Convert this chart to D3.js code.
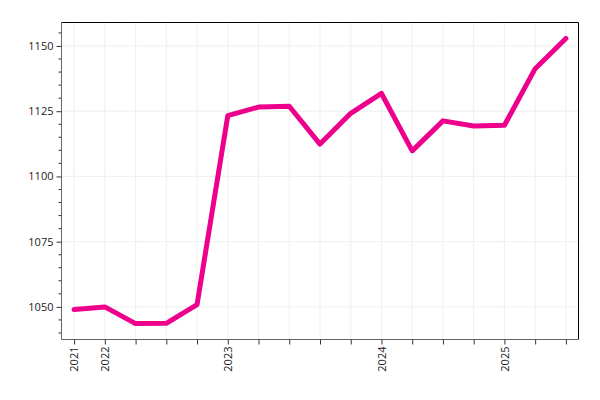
<!DOCTYPE html>
<html>
<head>
<meta charset="utf-8">
<script src="https://cdn.jsdelivr.net/npm/d3@7"></script>
<style>
  body { margin: 0; background: #fff; }
  text { font-family: "Open Sans", sans-serif; font-size: 11px; fill: #222; }
</style>
</head>
<body>
<svg id="chart" width="600" height="400"></svg>
<script>
// one value per period, tick label only where the year changes
var periodLabels = ["2021","2022","","","","2023","","","","","2024","","","","2025","",""];
var values = [1049, 1050, 1043.6, 1043.7, 1050.9, 1123.3, 1126.6, 1126.9, 1112.4, 1124.2,
              1131.8, 1109.8, 1121.3, 1119.3, 1119.6, 1141.3, 1152.9];
var yTicks = [1050, 1075, 1100, 1125, 1150];

var margin = {top: 22.5, right: 21.5, bottom: 60.5, left: 61.5},
    width = 600 - margin.left - margin.right,
    height = 400 - margin.top - margin.bottom;

var svg = d3.select("#chart");
var g = svg.append("g")
  .attr("transform", "translate(" + margin.left + "," + margin.top + ")");

var x = d3.scaleLinear()
    .domain([-0.41, values.length - 1 + 0.41])
    .range([0, width]);
var y = d3.scaleLinear()
    .domain([1037.5, 1159])
    .range([height, 0]);

var idx = d3.range(values.length);

// grid
g.append("g").selectAll("line.vg")
  .data(idx).enter().append("line")
  .attr("x1", function(d){ return x(d); })
  .attr("x2", function(d){ return x(d); })
  .attr("y1", 0).attr("y2", height)
  .attr("stroke", "#efefef").attr("stroke-width", 1);
g.append("g").selectAll("line.hg")
  .data(yTicks).enter().append("line")
  .attr("x1", 0).attr("x2", width)
  .attr("y1", function(d){ return y(d); })
  .attr("y2", function(d){ return y(d); })
  .attr("stroke", "#efefef").attr("stroke-width", 1);

// frame top/right
g.append("path")
  .attr("d", "M0,0H" + width + "V" + height)
  .attr("fill", "none").attr("stroke", "#000").attr("stroke-width", 1);

// minor y ticks
var minor = d3.range(1040, 1160, 5).filter(function(v){ return yTicks.indexOf(v) < 0; });
g.append("g").selectAll("line.mt")
  .data(minor).enter().append("line")
  .attr("x1", -3).attr("x2", 0)
  .attr("y1", function(d){ return y(d); })
  .attr("y2", function(d){ return y(d); })
  .attr("stroke", "#333");

var yAxis = g.append("g")
  .call(d3.axisLeft(y).tickValues(yTicks).tickSize(5).tickPadding(3).tickFormat(d3.format("d")));
yAxis.select(".domain").attr("stroke", "#666").attr("d", "M0,0V" + height);
yAxis.selectAll(".tick line").attr("stroke", "#333");
yAxis.selectAll("text").style("font-family", "'Open Sans', sans-serif").style("font-size", "11px").attr("fill", "#222");

var xAxis = g.append("g")
  .attr("transform", "translate(0," + height + ")")
  .call(d3.axisBottom(x).tickValues(idx).tickSize(5)
    .tickFormat(function(d){ return periodLabels[d]; }));
xAxis.select(".domain").attr("stroke", "#666").attr("d", "M0,0H" + width);
xAxis.selectAll(".tick line").attr("stroke", "#333");
xAxis.selectAll("text")
  .style("font-family", "'Open Sans', sans-serif").style("font-size", "11px").attr("fill", "#222")
  .attr("text-anchor", "end")
  .attr("transform", "rotate(-90)")
  .attr("x", -7).attr("y", 0).attr("dy", "0.35em");

// line
var line = d3.line()
  .x(function(d, i){ return x(i); })
  .y(function(d){ return y(d); });

g.append("path")
  .datum(values)
  .attr("d", line)
  .attr("fill", "none")
  .attr("stroke", "#ec008c")
  .attr("stroke-width", 5)
  .attr("stroke-linejoin", "round")
  .attr("stroke-linecap", "round");
</script>
</body>
</html>
